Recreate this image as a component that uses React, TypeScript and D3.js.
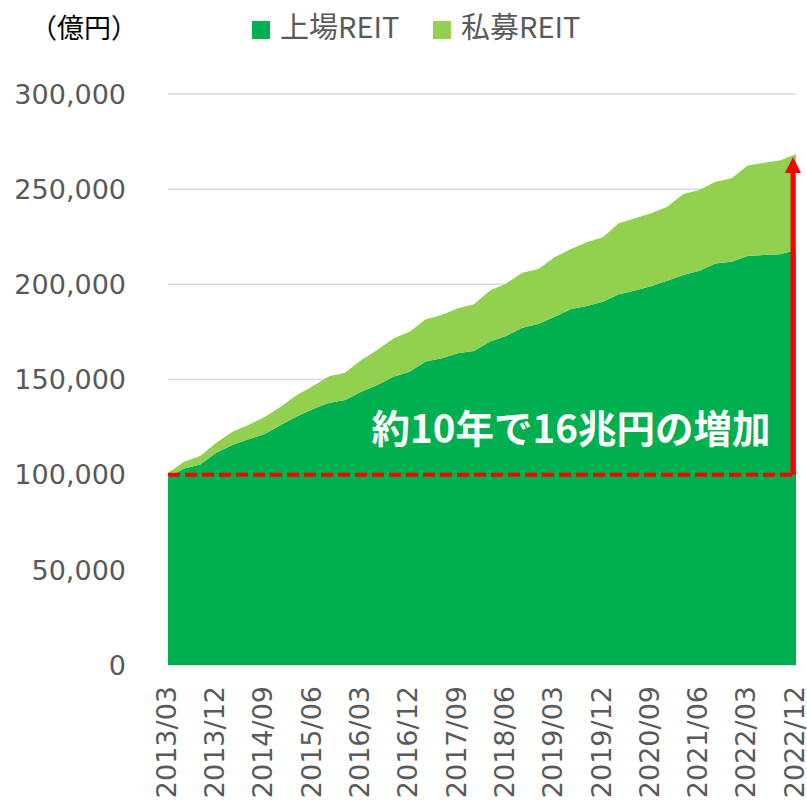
import React, { useEffect, useRef } from "react";
import * as d3 from "d3";

// quarterly categories
const quarters = [
  "2013/03", "2013/06", "2013/09", "2013/12",
  "2014/03", "2014/06", "2014/09", "2014/12",
  "2015/03", "2015/06", "2015/09", "2015/12",
  "2016/03", "2016/06", "2016/09", "2016/12",
  "2017/03", "2017/06", "2017/09", "2017/12",
  "2018/03", "2018/06", "2018/09", "2018/12",
  "2019/03", "2019/06", "2019/09", "2019/12",
  "2020/03", "2020/06", "2020/09", "2020/12",
  "2021/03", "2021/06", "2021/09", "2021/12",
  "2022/03", "2022/06", "2022/09", "2022/12",
];

// 上場REIT (億円)
const listed = [
  98600, 103300, 105400, 111500, 115600, 118600, 121400, 126100, 130500, 134500,
  137700, 139200, 143600, 147100, 151500, 154100, 159400, 161100, 163800, 165000,
  169900, 172900, 177200, 179200, 183000, 186900, 188600, 190900, 194800, 196700,
  199000, 201900, 204900, 207200, 211000, 211900, 214900, 215400, 215800, 218000,
];

// 私募REIT (億円)
const privateReit = [
  2300, 3500, 4400, 5300, 7000, 7500, 8900, 9600, 11400, 12100,
  14000, 14400, 16600, 18400, 20100, 21000, 22200, 22800, 23600, 24500,
  26800, 27600, 28900, 28900, 31200, 31500, 33500, 33800, 37300, 38000,
  38300, 38900, 42600, 42400, 42900, 43800, 47600, 48500, 49200, 50500,
];

const yTicks = [0, 50000, 100000, 150000, 200000, 250000, 300000];
const seriesNames = ["上場REIT", "私募REIT"];
const colors = ["#00AF50", "#92D050"];
const baseValue = 100000;
const note = "約10年で16兆円の増加";

export default function App() {
  const ref = useRef<SVGSVGElement>(null);
  const width = 807;
  const height = 803;
  const margin = { top: 94, right: 11, bottom: 138, left: 168 };

  useEffect(() => {
    const svg = d3.select(ref.current);
    svg.selectAll("*").remove();

    const innerW = width - margin.left - margin.right;
    const innerH = height - margin.top - margin.bottom;

    const data = quarters.map((q, i) => ({ q, a: listed[i], b: privateReit[i] }));
    const stacked = d3.stack<any>().keys(["a", "b"])(data);

    const x = d3.scalePoint().domain(quarters).range([0, innerW]);
    const y = d3.scaleLinear().domain([0, 300000]).range([innerH, 0]);

    const g = svg.append("g").attr("transform", `translate(${margin.left},${margin.top})`);

    // gridlines
    g.append("g")
      .selectAll("line")
      .data(yTicks)
      .join("line")
      .attr("x1", 0)
      .attr("x2", innerW)
      .attr("y1", (d) => y(d))
      .attr("y2", (d) => y(d))
      .attr("stroke", "#d9d9d9")
      .attr("stroke-width", 1.5);

    // y labels
    g.append("g")
      .selectAll("text")
      .data(yTicks)
      .join("text")
      .attr("x", -42)
      .attr("y", (d) => y(d))
      .attr("dy", "0.36em")
      .attr("text-anchor", "end")
      .attr("font-family", "DejaVu Sans, Verdana, sans-serif")
      .attr("font-size", 27)
      .attr("fill", "#595959")
      .text((d) => d3.format(",")(d));

    // areas
    const area = d3
      .area<any>()
      .x((d) => x(d.data.q)!)
      .y0((d) => y(d[0]))
      .y1((d) => y(d[1]));

    g.append("g")
      .selectAll("path")
      .data(stacked)
      .join("path")
      .attr("fill", (_, i) => colors[i])
      .attr("d", area as any);

    // x labels every 3 quarters
    const shown = quarters.filter((_, i) => i % 3 === 0);
    g.append("g")
      .selectAll("text")
      .data(shown)
      .join("text")
      .attr("transform", (d) => `translate(${x(d)! - 2},${innerH + 21}) rotate(-90)`)
      .attr("dy", "0.36em")
      .attr("text-anchor", "end")
      .attr("font-family", "DejaVu Sans, Verdana, sans-serif")
      .attr("font-size", 27)
      .attr("fill", "#595959")
      .text((d) => d);

    // red dashed base line at 100,000
    g.append("line")
      .attr("x1", 0)
      .attr("x2", innerW)
      .attr("y1", y(baseValue))
      .attr("y2", y(baseValue))
      .attr("stroke", "#FF0000")
      .attr("stroke-width", 4)
      .attr("stroke-dasharray", "12,5");

    // red arrow up to last total
    const lastTotal = listed[listed.length - 1] + privateReit[privateReit.length - 1];
    const ax = x(quarters[quarters.length - 1])! - 3;
    const tipY = y(lastTotal) + 3;
    g.append("line")
      .attr("x1", ax)
      .attr("x2", ax)
      .attr("y1", y(baseValue))
      .attr("y2", tipY + 14)
      .attr("stroke", "#FF0000")
      .attr("stroke-width", 5);
    g.append("path")
      .attr("d", `M${ax},${tipY} L${ax - 8},${tipY + 16} L${ax + 8},${tipY + 16} Z`)
      .attr("fill", "#FF0000");

    // annotation
    g.append("text")
      .attr("x", 571 - margin.left)
      .attr("y", 443 - margin.top)
      .attr("text-anchor", "middle")
      .attr("font-family", "Noto Sans CJK JP, sans-serif")
      .attr("font-weight", "bold")
      .attr("font-size", 38.5)
      .attr("fill", "#ffffff")
      .text(note);

    // unit label
    svg.append("text")
      .attr("x", 30)
      .attr("y", 38)
      .attr("font-family", "Noto Sans CJK JP, sans-serif")
      .attr("font-size", 27)
      .attr("fill", "#000000")
      .text("（億円）");

    // legend
    const legendX = [252, 433];
    const legend = svg.append("g");
    seriesNames.forEach((name, i) => {
      legend.append("rect")
        .attr("x", legendX[i])
        .attr("y", 21)
        .attr("width", 18)
        .attr("height", 18)
        .attr("fill", colors[i]);
      legend.append("text")
        .attr("x", legendX[i] + 28)
        .attr("y", 38)
        .attr("font-family", "Noto Sans CJK JP, sans-serif")
        .attr("font-size", 29)
        .attr("fill", "#595959")
        .text(name);
    });
  }, []);

  return (
    <svg
      ref={ref}
      width={width}
      height={height}
      style={{ position: "absolute", left: 0, top: 0, background: "#fff" }}
    />
  );
}
